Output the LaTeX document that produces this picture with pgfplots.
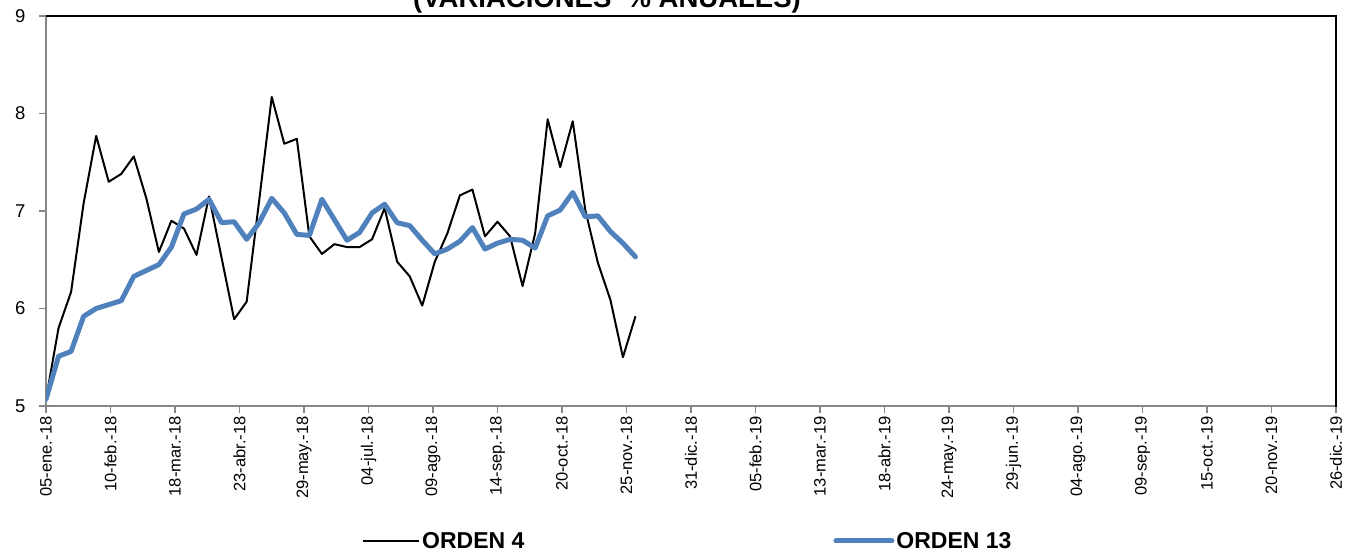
\documentclass[border=0pt]{standalone}
\usepackage{fontspec}
\setmainfont{Liberation Sans}
\usepackage{pgfplots}
\pgfplotsset{compat=1.18}
\usetikzlibrary{calc}
\definecolor{orden13}{RGB}{79,129,189}
\definecolor{axisgray}{RGB}{134,134,134}

% weekly data, x = days since 05-ene-18
\pgfplotstableread{
d v
0 5.07
7 5.80
14 6.17
21 7.08
28 7.77
35 7.30
42 7.38
49 7.56
56 7.13
63 6.58
70 6.90
77 6.82
84 6.55
91 7.15
98 6.52
105 5.89
112 6.07
119 7.11
126 8.17
133 7.69
140 7.74
147 6.74
154 6.56
161 6.66
168 6.63
175 6.63
182 6.71
189 7.03
196 6.48
203 6.33
210 6.03
217 6.48
224 6.77
231 7.16
238 7.22
245 6.74
252 6.89
259 6.74
266 6.23
273 6.77
280 7.94
287 7.45
294 7.92
301 7.01
308 6.47
315 6.09
322 5.50
329 5.92
}\ordencuatro

\pgfplotstableread{
d v
0 5.07
7 5.51
14 5.56
21 5.92
28 6.00
35 6.04
42 6.08
49 6.33
56 6.39
63 6.45
70 6.63
77 6.97
84 7.02
91 7.12
98 6.88
105 6.89
112 6.71
119 6.88
126 7.13
133 6.98
140 6.76
147 6.75
154 7.12
161 6.91
168 6.70
175 6.78
182 6.98
189 7.07
196 6.88
203 6.85
210 6.70
217 6.56
224 6.61
231 6.69
238 6.83
245 6.61
252 6.67
259 6.71
266 6.70
273 6.62
280 6.95
287 7.01
294 7.19
301 6.94
308 6.95
315 6.79
322 6.67
329 6.53
}\ordentrece

\begin{document}
\begin{tikzpicture}
\begin{axis}[
  scale only axis, width=1290pt, height=390pt,
  xmin=0, xmax=720, ymin=5, ymax=9,
  xtick={0,36,...,720},
  xticklabels={05-ene.-18,10-feb.-18,18-mar.-18,23-abr.-18,29-may.-18,04-jul.-18,09-ago.-18,14-sep.-18,20-oct.-18,25-nov.-18,31-dic.-18,05-feb.-19,13-mar.-19,18-abr.-19,24-may.-19,29-jun.-19,04-ago.-19,09-sep.-19,15-oct.-19,20-nov.-19,26-dic.-19},
  ytick={5,6,7,8,9},
  tick align=outside, major tick length=7pt, tick pos=left,
  axis line style={axisgray, line width=1.5pt},
  every tick/.style={axisgray, line width=1.5pt},
  x tick label style={rotate=90, anchor=east, font=\fontsize{16.5}{18}\selectfont},
  y tick label style={font=\fontsize{18.5}{20}\selectfont, xshift=-10pt},
  /pgf/number format/assume math mode=true,
  legend columns=2,
  legend style={draw=none, fill=none, at={(0.2426,-0.346)}, anchor=west,
    font=\bfseries\fontsize{23}{26}\selectfont,
    nodes={inner xsep=2pt, inner ysep=0pt},
    /tikz/every even column/.append style={column sep=307pt}},
  legend cell align=left,
  legend image code/.code={\draw[#1] (0pt,0pt) -- (56pt,0pt);},
]
\addplot[black, line width=2pt, line join=round] table[x=d, y=v] {\ordencuatro};
\addlegendentry{ORDEN 4}
\addplot[orden13, line width=5pt, line join=round, line cap=round] table[x=d, y=v] {\ordentrece};
\addlegendentry{ORDEN 13}
\coordinate (sw) at (rel axis cs:0,0);
\coordinate (ne) at (rel axis cs:1,1);
\coordinate (se) at (rel axis cs:1,0);
\coordinate (nw) at (rel axis cs:0,1);
\coordinate (tt) at (rel axis cs:0.4349,1);
\end{axis}
\draw[black, line width=1.5pt] (nw) -- (ne) -- ([yshift=-0.75pt]se);
\node[anchor=base, font=\bfseries\fontsize{27.5}{30}\selectfont] at ([yshift=8pt]tt) {(VARIACIONES\ \ \% ANUALES)};
\pgfresetboundingbox
\path[use as bounding box] ($(sw)+(-46pt,-149pt)$) rectangle ($(ne)+(13pt,16pt)$);
\end{tikzpicture}
\end{document}
